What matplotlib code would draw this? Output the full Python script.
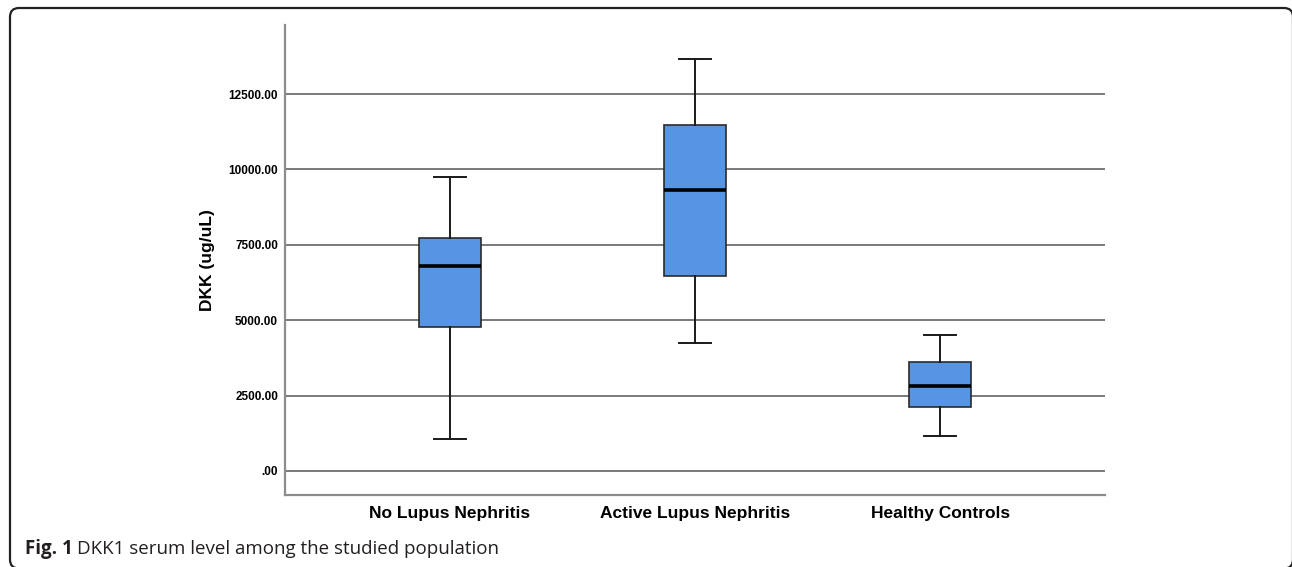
import matplotlib
matplotlib.use("Agg")
import matplotlib.pyplot as plt
from matplotlib.patches import FancyBboxPatch
from matplotlib.transforms import IdentityTransform

# group labels and box statistics (ug/uL)
groups = ["No Lupus Nephritis", "Active Lupus Nephritis", "Healthy Controls"]
whisker_low = [1060, 4250, 1160]
q1 = [4780, 6470, 2125]
median = [6810, 9330, 2820]
q3 = [7740, 11490, 3620]
whisker_high = [9760, 13650, 4515]

yticks = [0, 2500, 5000, 7500, 10000, 12500]
ytick_labels = [".00", "2500.00", "5000.00", "7500.00", "10000.00", "12500.00"]

box_color = "#5595e3"

stats = []
for i, g in enumerate(groups):
    stats.append({
        "label": g,
        "whislo": whisker_low[i],
        "q1": q1[i],
        "med": median[i],
        "q3": q3[i],
        "whishi": whisker_high[i],
        "fliers": [],
    })

fig = plt.figure(figsize=(12.92, 5.67), dpi=100)
ax = fig.add_axes([0.2206, 0.1270, 0.6347, 0.8289])

ax.bxp(stats, positions=[1, 2, 3], widths=0.25, patch_artist=True,
       showfliers=False,
       boxprops=dict(facecolor=box_color, edgecolor="#2b2b2b", linewidth=1.2),
       medianprops=dict(color="black", linewidth=2.6),
       whiskerprops=dict(color="#1a1a1a", linewidth=1.4),
       capprops=dict(color="#1a1a1a", linewidth=1.4),
       capwidths=0.13, zorder=3)

ax.set_xlim(0.327, 3.673)
ax.set_ylim(-796, 14790)

ax.set_yticks(yticks)
ax.set_yticklabels(ytick_labels, fontsize=8.5, fontweight="bold",
                   family="Liberation Sans")
ax.set_xticks([1, 2, 3])
ax.set_xticklabels(groups, fontsize=12.5, fontweight="bold",
                   family="Liberation Sans")
ax.tick_params(axis="both", length=0)
ax.tick_params(axis="y", pad=5)
ax.tick_params(axis="x", pad=8)

ax.yaxis.grid(True, color="#707070", linewidth=1.3, zorder=0)
ax.set_axisbelow(True)

for s in ["top", "right"]:
    ax.spines[s].set_visible(False)
for s in ["left", "bottom"]:
    ax.spines[s].set_color("#8c8c8c")
    ax.spines[s].set_linewidth(1.6)

ax.set_ylabel("DKK (ug/uL)", fontsize=12.5, fontweight="bold",
              family="Liberation Sans", labelpad=10)

# caption
fig.text(25 / 1292, 1 - 554 / 567, "Fig. 1", fontsize=13.5, fontweight="bold",
         family="Open Sans", color="#231f20")
fig.text(77 / 1292, 1 - 554 / 567, "DKK1 serum level among the studied population",
         fontsize=13.5, family="Open Sans", color="#231f20")

# rounded frame round the figure, in pixels (right and bottom run off the edge)
frame = FancyBboxPatch((10, -1.5), 1283, 560.5,
                       boxstyle="round,pad=0,rounding_size=9",
                       transform=IdentityTransform(), fill=False,
                       edgecolor="#222222", linewidth=1.6)
fig.patches.append(frame)

fig.savefig("out.png", dpi=100)
